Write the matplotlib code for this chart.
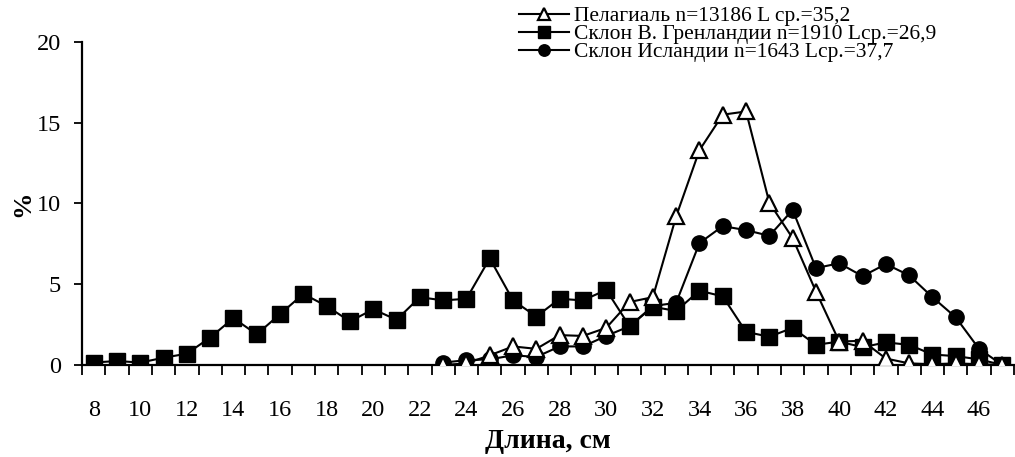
import numpy as np
import matplotlib
matplotlib.use("Agg")
import matplotlib.pyplot as plt
from matplotlib.ticker import FixedLocator

plt.rcParams['font.family'] = ['Liberation Serif', 'DejaVu Serif']

# length classes, cm
len_green = list(range(8, 48))
len_pel = list(range(23, 48))
len_ice = list(range(23, 48))

# Склон В. Гренландии (squares)
pct_green = [0.15, 0.25, 0.15, 0.45, 0.7, 1.7, 2.9, 1.9, 3.15, 4.4,
             3.65, 2.7, 3.45, 2.8, 4.2, 4.0, 4.1, 6.6, 4.0, 3.0,
             4.1, 4.0, 4.65, 2.4, 3.6, 3.35, 4.6, 4.25, 2.05, 1.75,
             2.3, 1.25, 1.45, 1.1, 1.4, 1.25, 0.65, 0.55, 0.35, 0.0]
# Пелагиаль (open triangles)
pct_pel = [0.0, 0.1, 0.6, 1.15, 1.0, 1.85, 1.8, 2.3, 3.9, 4.2,
           9.2, 13.3, 15.5, 15.7, 10.05, 7.85, 4.55, 1.45, 1.5, 0.4,
           0.1, 0.05, 0.1, 0.05, 0.0]
# Склон Исландии (circles)
pct_ice = [0.15, 0.3, 0.35, 0.6, 0.5, 1.15, 1.15, 1.8, 2.4, 3.65,
           3.85, 7.55, 8.6, 8.35, 8.0, 9.6, 6.0, 6.3, 5.5, 6.25,
           5.55, 4.2, 2.95, 1.0, 0.0]

labels = ['Пелагиаль n=13186 L ср.=35,2',
          'Склон В. Гренландии n=1910 Lср.=26,9',
          'Склон Исландии n=1643 Lср.=37,7']

fig = plt.figure(figsize=(10.15, 4.57), dpi=100)
ax = fig.add_axes([82 / 1015, 92 / 457, 932 / 1015, 323 / 457])

lw = 1.5
h_green, = ax.plot(len_green, pct_green, color='black', lw=lw, marker='s',
                   ms=11, mfc='black', mec='black', zorder=3)
h_ice, = ax.plot(len_ice, pct_ice, color='black', lw=lw, marker='o',
                 ms=11, mfc='black', mec='black', zorder=4)
h_pel, = ax.plot(len_pel, pct_pel, color='black', lw=lw, marker='^',
                 ms=11, mfc='white', mec='black', mew=1.6, zorder=5)

ax.set_xlim(7.5, 47.5)
ax.set_ylim(0, 20)
ax.set_yticks([0, 5, 10, 15, 20])
ax.xaxis.set_major_locator(FixedLocator(list(range(8, 47, 2))))
ax.xaxis.set_minor_locator(FixedLocator(list(np.arange(7.5, 48, 1.0))))
ax.tick_params(axis='x', which='major', length=0, pad=25, labelsize=17.5)
ax.tick_params(axis='x', which='minor', length=7, width=1.3, direction='out')
ax.tick_params(axis='y', length=6, width=1.3, pad=9, labelsize=17.5)

for s in ['top', 'right']:
    ax.spines[s].set_visible(False)
for s in ['left', 'bottom']:
    ax.spines[s].set_linewidth(1.6)
ax.spines['left'].set_zorder(6)

ax.set_xlabel('Длина, см', fontsize=20, fontweight='bold', labelpad=6)
ax.set_ylabel('%', fontsize=19, fontweight='bold', labelpad=2)

leg = fig.legend([h_pel, h_green, h_ice], labels, loc='upper left',
                 bbox_to_anchor=(517 / 1015, 1 - 4 / 457), frameon=False,
                 fontsize=15.5, handlelength=2.3, handletextpad=0.25,
                 labelspacing=-0.1, borderaxespad=0.0, borderpad=0.1,
                 markerscale=0.75)

fig.savefig('out.png', dpi=100)
